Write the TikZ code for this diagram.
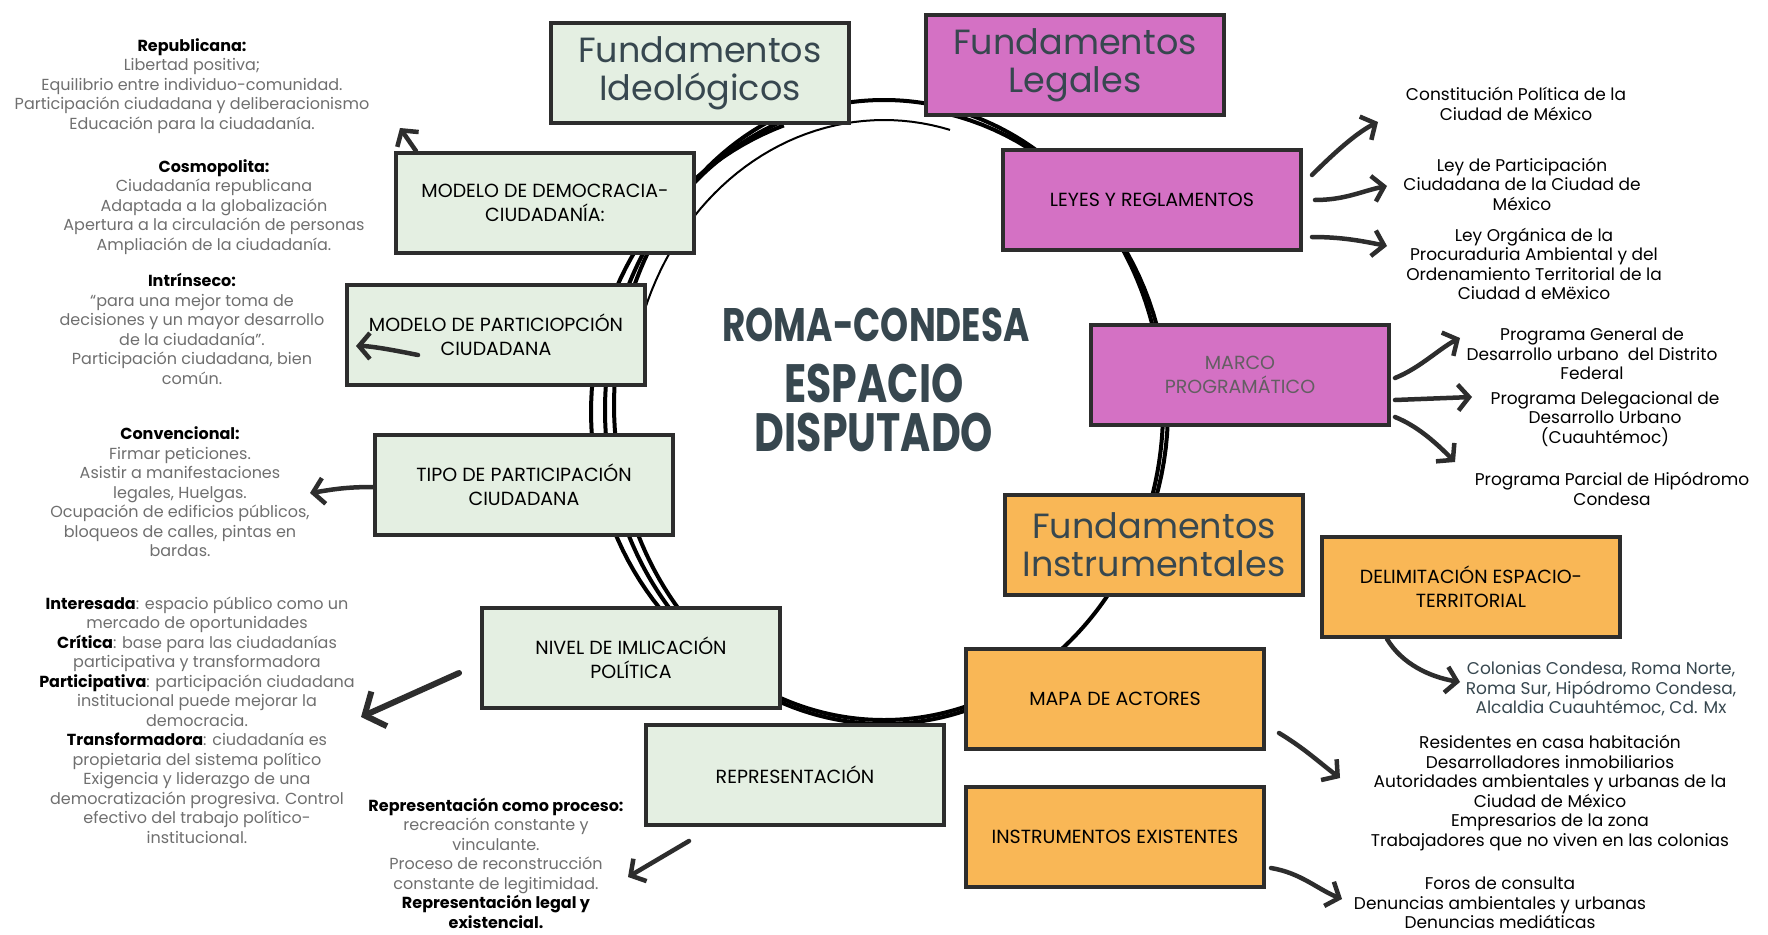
\documentclass[tikz,border=0pt]{standalone}
\usepackage{fontspec}
\setmainfont{Poppins}
\newfontfamily\narrowfont{Poppins}[FakeStretch=0.76]
\usetikzlibrary{arrows.meta}
\definecolor{boxgreen}{HTML}{E4EFE2}
\definecolor{boxpink}{HTML}{D471C4}
\definecolor{boxorange}{HTML}{F9B756}
\definecolor{inkline}{HTML}{2D2D2D}
\definecolor{slate}{HTML}{37474F}
\definecolor{notegray}{HTML}{6F6F6F}
\newcommand{\notefont}{\fontsize{16}{19.5}\selectfont}
\newcommand{\inkfont}{\fontsize{17}{19.5}\selectfont}
\newcommand{\boxfont}{\fontsize{19}{24}\selectfont}
\newcommand{\titlefont}{\fontsize{35}{38}\selectfont}
\newcommand{\headword}[1]{{\color{black}\bfseries #1}}
\begin{document}
\begin{tikzpicture}[x=1pt, y=-1pt,
  box/.style={draw=inkline, line width=4pt, minimum width=298pt, minimum height=100pt, align=center, font=\boxfont, inner sep=4pt},
  ideabox/.style={box, fill=boxgreen},
  lawbox/.style={box, fill=boxpink},
  toolbox/.style={box, fill=boxorange},
  note/.style={align=center, font=\notefont, text=notegray, inner sep=0pt},
  ink/.style={align=center, font=\inkfont, text=black, inner sep=0pt},
  ring/.style={draw=black, line width=4pt},
  arr/.style={draw=inkline, line width=4.5pt, line cap=round, -{Straight Barb[length=11pt,width=26pt]}}]
\fill[white] (0,0) rectangle (1768,934);

% ring
\draw[ring] (884,410) ellipse [x radius=279pt, y radius=310pt];
\draw[ring] plot[domain=120:250, samples=60] ({884+293*cos(\x)},{412+305*sin(\x)});
\draw[ring] plot[domain=135:245, samples=60] ({880+266*cos(\x)},{405+312*sin(\x)});
\draw[ring, line width=2pt] plot[domain=200:285, samples=40] ({884+255*cos(\x)},{410+290*sin(\x)});
\draw[ring] plot[domain=-80:20, samples=40] ({884+284*cos(\x)},{410+304*sin(\x)});
\draw[ring] plot[domain=55:125, samples=40] ({884+284*cos(\x)},{406+318*sin(\x)});

% boxes
\node[ideabox, font=\titlefont, text=slate] (fideo) at (700,73) {Fundamentos\\Ideológicos};
\node[lawbox, font=\titlefont, text=slate] (flegal) at (1075,65) {Fundamentos\\Legales};
\node[lawbox] (leyes) at (1152,200) {LEYES Y REGLAMENTOS};
\node[lawbox, text=white!85!boxpink!40!black] (marco) at (1240,375) {MARCO\\PROGRAMÁTICO};
\node[toolbox, font=\titlefont, text=slate] (finst) at (1154,545) {Fundamentos\\Instrumentales};
\node[toolbox] (delim) at (1471,587) {DELIMITACIÓN ESPACIO-\\TERRITORIAL};
\node[toolbox] (mapa) at (1115,699) {MAPA DE ACTORES};
\node[toolbox] (instr) at (1115,837) {INSTRUMENTOS EXISTENTES};
\node[ideabox] (mdc) at (545,203) {MODELO DE DEMOCRACIA-\\CIUDADANÍA:};
\node[ideabox] (mpc) at (496,335) {MODELO DE PARTICIOPCIÓN\\CIUDADANA};
\node[ideabox] (tipo) at (524,485) {TIPO DE PARTICIPACIÓN\\CIUDADANA};
\node[ideabox] (nivel) at (631,658) {NIVEL DE IMLICACIÓN\\POLÍTICA};
\node[ideabox] (repr) at (795,775) {REPRESENTACIÓN};

% centre
\node[font=\narrowfont\bfseries\fontsize{47}{47}\selectfont, text=slate] (roma) at (876,325) {ROMA-CONDESA};
\node[font=\narrowfont\bfseries\fontsize{54}{54}\selectfont, text=slate] (espacio) at (874,383) {ESPACIO};
\node[font=\narrowfont\bfseries\fontsize{54}{54}\selectfont, text=slate] (disputado) at (874,432) {DISPUTADO};

% left notes
\node[note] (republicana) at (192,86) {\headword{Republicana:}\\Libertad positiva;\\Equilibrio entre individuo-comunidad.\\Participación ciudadana y deliberacionismo\\Educación para la ciudadanía.};
\node[note] (cosmopolita) at (214,207) {\headword{Cosmopolita:}\\Ciudadanía republicana\\Adaptada a la globalización\\Apertura a la circulación de personas\\Ampliación de la ciudadanía.};
\node[note] (intrinseco) at (192,329) {\headword{Intrínseco:}\\“para una mejor toma de\\decisiones y un mayor desarrollo\\de la ciudadanía”.\\Participación ciudadana, bien\\común.};
\node[note] (convencional) at (180,492) {\headword{Convencional:}\\Firmar peticiones.\\Asistir a manifestaciones\\legales, Huelgas.\\Ocupación de edificios públicos,\\bloqueos de calles, pintas en\\bardas.};
\node[note] (implicacion) at (197,720) {\headword{Interesada}: espacio público como un\\mercado de oportunidades\\\headword{Crítica}: base para las ciudadanías\\participativa y transformadora\\\headword{Participativa}: participación ciudadana\\institucional puede mejorar la\\democracia.\\\headword{Transformadora}: ciudadanía es\\propietaria del sistema político\\Exigencia y liderazgo de una\\democratización progresiva. Control\\efectivo del trabajo político-\\institucional.};
\node[note] (proceso) at (496,863) {\headword{Representación como proceso:}\\recreación constante y\\vinculante.\\Proceso de reconstrucción\\constante de legitimidad.\\\headword{Representación legal y}\\\headword{existencial.}};

% right notes
\node[ink] (consti) at (1516,104) {Constitución Política de la\\Ciudad de México};
\node[ink] (leypart) at (1522,184) {Ley de Participación\\Ciudadana de la Ciudad de\\México};
\node[ink] (leyorg) at (1534,264) {Ley Orgánica de la\\Procuraduria Ambiental y del\\Ordenamiento Territorial de la\\Ciudad d eMëxico};
\node[ink] (progen) at (1592,354) {Programa General de\\Desarrollo urbano\ \ del Distrito\\Federal};
\node[ink] (prodel) at (1605,419) {Programa Delegacional de\\Desarrollo Urbano\\(Cuauhtémoc)};
\node[ink] (propar) at (1612,489) {Programa Parcial de Hipódromo\\Condesa};
\node[ink, text=slate] (colonias) at (1601,689) {Colonias Condesa, Roma Norte,\\Roma Sur, Hipódromo Condesa,\\Alcaldia Cuauhtémoc, Cd. Mx};
\node[ink] (actores) at (1550,793) {Residentes en casa habitación\\Desarrolladores inmobiliarios\\Autoridades ambientales y urbanas de la\\Ciudad de México\\Empresarios de la zona\\Trabajadores que no viven en las colonias};
\node[ink] (foros) at (1500,903) {Foros de consulta\\Denuncias ambientales y urbanas\\Denuncias mediáticas};

% arrow tips
\coordinate (tipmdc) at (400,128);
\coordinate (tipmpc) at (356,346);
\coordinate (tiptipo) at (310,493);
\coordinate (tipnivel) at (361,717);
\coordinate (tiprepr) at (628,877);
\coordinate (tipconsti) at (1378,122);
\coordinate (tipleypart) at (1387,186);
\coordinate (tipleyorg) at (1387,246);
\coordinate (tipprogen) at (1460,338);
\coordinate (tipprodel) at (1472,397);
\coordinate (tippropar) at (1455,462);
\coordinate (tipcolonias) at (1460,682);
\coordinate (tipactores) at (1340,778);
\coordinate (tipforos) at (1342,899);

% arrows
\draw[arr] ([xshift=22pt]mdc.north west) -- (tipmdc);
\draw[arr] ([xshift=-78pt,yshift=-20pt]mpc.center) .. controls +(-25,-5) and +(15,0) .. (tipmpc);
\draw[arr] ([yshift=-2pt]tipo.west) .. controls +(-30,0) and +(20,-3) .. (tiptipo);
\draw[arr, -{Straight Barb[length=16pt,width=38pt]}, line width=6pt] ([xshift=-21pt,yshift=-15pt]nivel.west) -- (tipnivel);
\draw[arr] ([xshift=45pt,yshift=-14pt]repr.south west) -- (tiprepr);
\draw[arr] ([xshift=9pt,yshift=25pt]leyes.east) .. controls +(25,-25) and +(-20,10) .. (tipconsti);
\draw[arr] ([xshift=12pt]leyes.east) .. controls +(30,0) and +(-25,5) .. (tipleypart);
\draw[arr] ([xshift=9pt,yshift=-37pt]leyes.east) .. controls +(30,0) and +(-25,-5) .. (tipleyorg);
\draw[arr] ([xshift=4pt,yshift=-3pt]marco.east) .. controls +(25,-10) and +(-20,10) .. (tipprogen);
\draw[arr] ([xshift=4pt,yshift=-25pt]marco.east) -- (tipprodel);
\draw[arr] ([xshift=4pt,yshift=-42pt]marco.east) .. controls +(25,10) and +(-15,-15) .. (tippropar);
\draw[arr] ([xshift=67pt]delim.south west) .. controls +(15,25) and +(-30,-5) .. (tipcolonias);
\draw[arr] ([xshift=13pt,yshift=-34pt]mapa.east) .. controls +(25,15) and +(-20,-15) .. (tipactores);
\draw[arr] ([xshift=5pt,yshift=-31pt]instr.east) .. controls +(30,5) and +(-25,-10) .. (tipforos);
\end{tikzpicture}
\end{document}
